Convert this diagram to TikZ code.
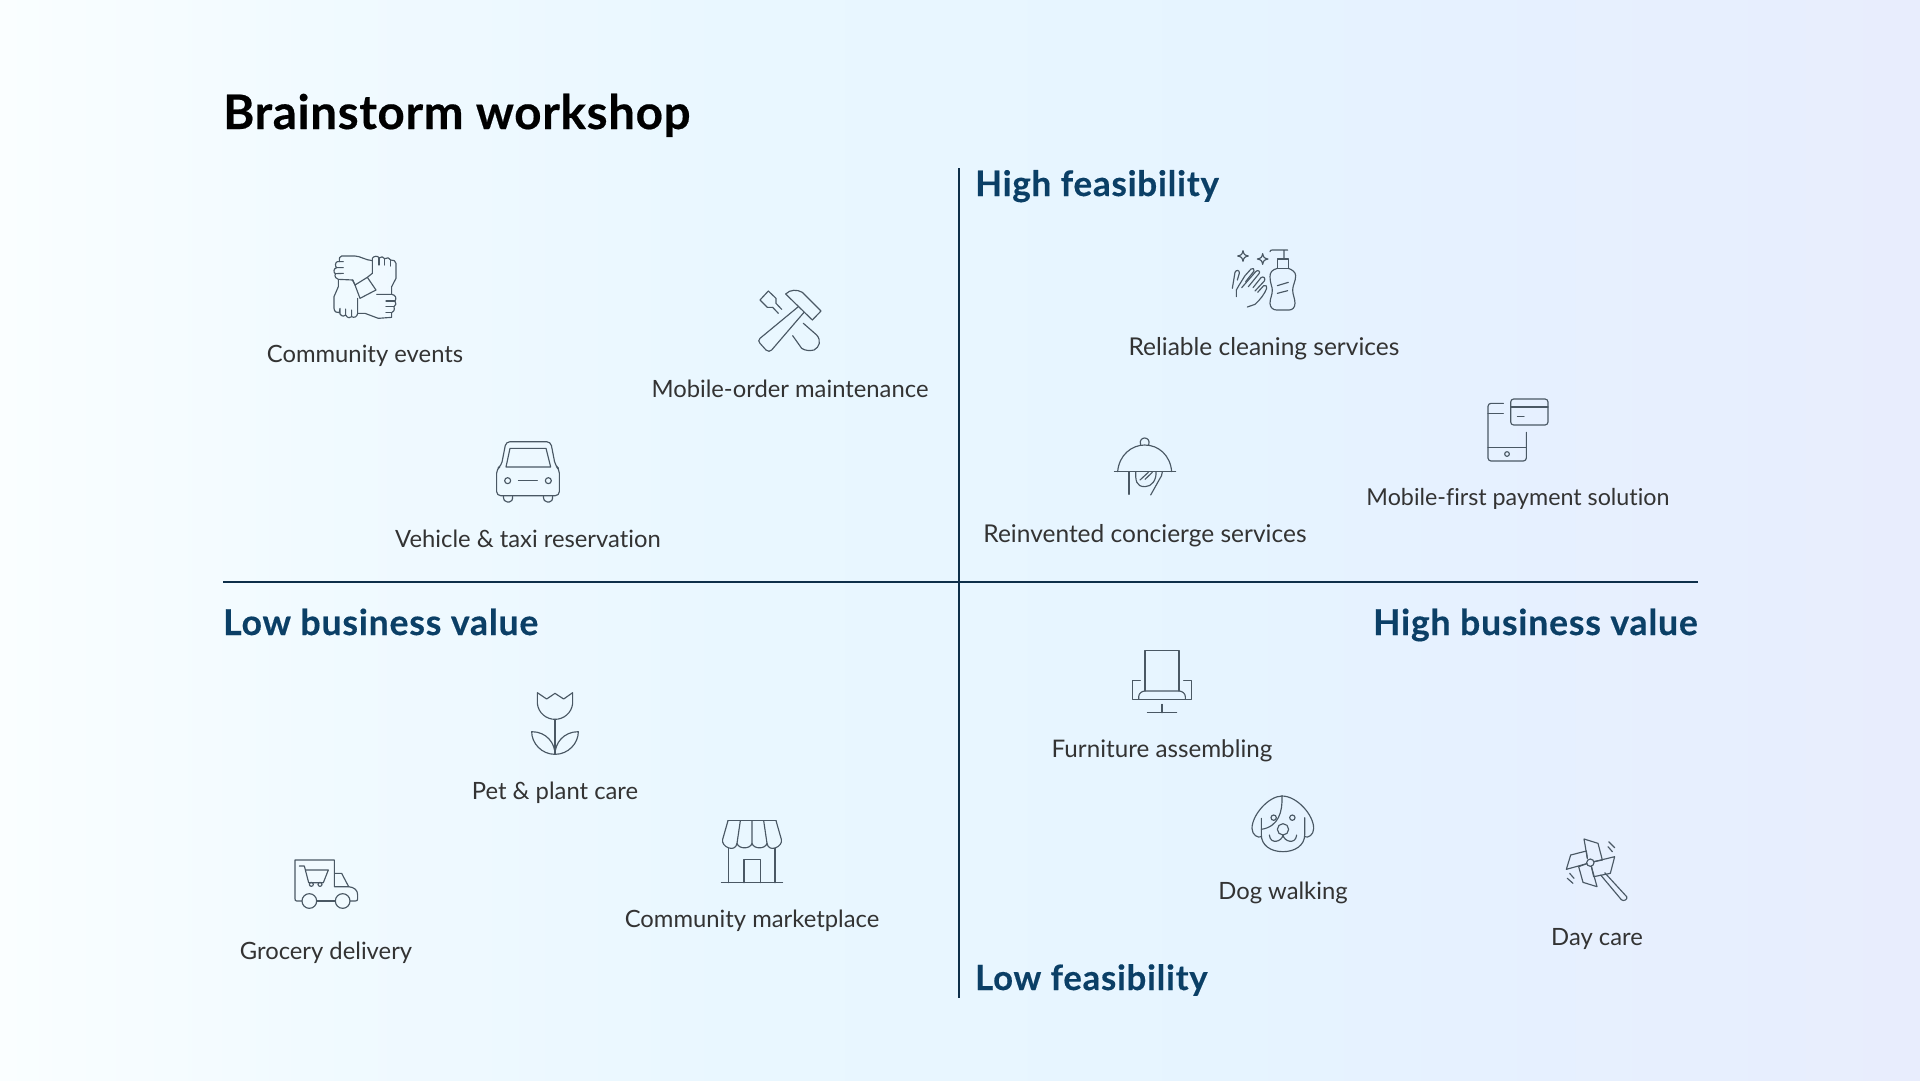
\documentclass[tikz,border=0pt]{standalone}
\usepackage{fontspec}
\setmainfont{Lato}[Ligatures=NoCommon]
\definecolor{axisc}{HTML}{0E2F4A}
\definecolor{headc}{HTML}{0B3F66}
\definecolor{labc}{HTML}{333333}
\definecolor{iconc}{HTML}{4A5864}
\definecolor{bga}{HTML}{FAFEFF}
\definecolor{bgb}{HTML}{F1FAFF}
\definecolor{bgc}{HTML}{E9F7FF}
\definecolor{bgd}{HTML}{E8F6FF}
\definecolor{bge}{HTML}{E6F4FF}
\definecolor{bgf}{HTML}{E6F1FF}
\definecolor{bgg}{HTML}{E8EDFD}
\pgfdeclarehorizontalshading{bgshade}{100bp}{
  color(0bp)=(bga);
  color(25bp)=(bga);
  color(33bp)=(bgb);
  color(44bp)=(bgc);
  color(50bp)=(bgd);
  color(57bp)=(bge);
  color(63bp)=(bgf);
  color(75bp)=(bgg);
  color(100bp)=(bgg)}
\tikzset{
  lab/.style={anchor=base,inner sep=0pt,text=labc,font=\fontsize{#1}{28}\selectfont},
  lab/.default=23.8,
  head/.style={inner sep=0pt,text=headc,font=\fontsize{#1}{40}\selectfont\bfseries\addfontfeatures{LetterSpace=2.2,FakeBold=0.35}},
  head/.default=35,
  ttl/.style={inner sep=0pt,anchor=base west,text=black,font=\fontsize{47.5}{54}\selectfont\bfseries\addfontfeatures{LetterSpace=1.4,FakeBold=0.4}},
  axisl/.style={draw=axisc,line width=1.7pt},
  ic/.style={x=0.33333pt,y=-0.33333pt,draw=iconc,line width=1.15pt,line cap=round,line join=round},
  iconpath/.style={draw=iconc,line width=1.15pt,line cap=round,line join=round}
}
\begin{document}
\begin{tikzpicture}[x=1pt,y=-1pt]
\useasboundingbox (0,0) rectangle (1920,1080);
\shade[shading=bgshade] (0,0) rectangle (1920,1080);

\coordinate (vtop) at (959,168);
\coordinate (vbot) at (959,998);
\coordinate (hl) at (223,582);
\coordinate (hr) at (1698,582);
\draw[axisl] (vtop) -- (vbot);
\draw[axisl] (hl) -- (hr);

\node[ttl] (title) at (223,129) {Brainstorm workshop};
\node[head,anchor=base west] (hf) at (975,196) {High feasibility};
\node[head=35.6,anchor=base west] (lb) at (223,635) {Low business value};
\node[head=35.6,anchor=base east] (hb) at (1698,635) {High business value};
\node[head=34.7,anchor=base west] (lf) at (975,990) {Low feasibility};

\node[lab] (l1) at (365,362.5) {Community events};
\node[lab] (l2) at (790,397) {Mobile-order maintenance};
\node[lab] (l3) at (528,547) {Vehicle \& taxi reservation};
\node[lab=24.5] (l4) at (1264,355) {Reliable cleaning services};
\node[lab=23.3] (l5) at (1518,505.5) {Mobile-first payment solution};
\node[lab=24.5] (l6) at (1145,542) {Reinvented concierge services};
\node[lab=24.2] (l7) at (1162,757) {Furniture assembling};
\node[lab] (l8) at (1283,899) {Dog walking};
\node[lab] (l9) at (1597,945) {Day care};
\node[lab] (l10) at (555,799) {Pet \& plant care};
\node[lab] (l11) at (752,927) {Community marketplace};
\node[lab] (l12) at (326,959) {Grocery delivery};

% hands
\begin{scope}[shift={(310,230)},ic]
\draw[iconpath] (187,92) .. controls (165,90) and (150,78) .. (135,78) -- (95,78) .. controls (88,78) and (88,85) .. (88,95) -- (82,95) .. controls (75,97) and (75,110) .. (80,113) .. controls (70,115) and (70,128) .. (76,131) .. controls (72,140) and (80,148) .. (85,148) -- (128,150) -- (135,165);
\draw[iconpath] (100,95) -- (88,95) (100,113) -- (80,113) (100,130) -- (76,131);
\draw[iconpath] (187,130) -- (187,85) .. controls (190,78) and (205,76) .. (207,84) .. controls (212,78) and (222,80) .. (224,86) .. controls (230,80) and (240,84) .. (242,90) .. controls (250,90) and (258,92) .. (258,100) -- (258,145) -- (245,170) -- (245,192);
\draw[iconpath] (207,84) -- (207,105) (224,86) -- (224,105) (242,90) -- (242,108);
\draw[iconpath] (187,130) -- (172,142) (128,150) -- (135,165) -- (172,142) -- (198,180) -- (150,205) -- (135,165);
\draw[iconpath] (200,193) -- (245,193) .. controls (258,195) and (260,205) .. (255,213) .. controls (260,218) and (258,228) .. (252,230) .. controls (255,240) and (250,247) .. (245,248) -- (245,262) -- (205,265) -- (165,250) -- (143,250);
\draw[iconpath] (228,213) -- (255,213) (228,230) -- (252,230) (228,248) -- (245,248);
\draw[iconpath] (85,150) -- (85,170) -- (72,200) -- (72,235) .. controls (72,245) and (82,250) .. (88,248) -- (90,235) -- (90,252) .. controls (95,260) and (105,260) .. (107,255) -- (107,237) -- (107,255) .. controls (112,265) and (122,265) .. (125,260) -- (125,240) -- (125,260) .. controls (132,265) and (142,260) .. (143,250) -- (143,205);
\end{scope}

% tools
\begin{scope}[shift={(740,270)},ic]
\draw[iconpath] (137,72) -- (217,150) -- (243,123) -- (187,67) .. controls (172,58) and (150,58) .. (137,72) -- cycle;
\draw[iconpath] (175,110) -- (60,205) .. controls (55,210) and (55,215) .. (60,220) -- (78,240) .. controls (84,245) and (90,245) .. (95,240) -- (192,127);
\draw[iconpath] (190,160) -- (230,195) .. controls (245,212) and (238,232) .. (222,240) .. controls (210,243) and (195,242) .. (185,235) -- (158,197);
\draw[iconpath] (98,112) -- (82,112) -- (60,90) -- (85,63) -- (108,85) -- (108,100) -- (125,118);
\draw[iconpath] (98,112) -- (115,130);
\end{scope}

% car
\begin{scope}[shift={(480,425)},ic]
\draw[iconpath,rounded corners=4pt] (50,132) -- (50,212) -- (238,212) -- (238,132) -- (226,122) -- (212,50) -- (78,50) -- (64,122) -- cycle;
\draw[iconpath] (90,70) -- (198,70) -- (212,126) -- (78,126) -- cycle;
\draw[iconpath] (83,167) circle[radius=9] (205,167) circle[radius=9];
\draw[iconpath] (115,167) -- (172,167);
\draw[iconpath] (70,212) .. controls (70,225) and (75,231) .. (82,231) -- (88,231) .. controls (95,231) and (98,225) .. (98,212);
\draw[iconpath] (190,212) .. controls (190,225) and (195,231) .. (202,231) -- (208,231) .. controls (215,231) and (218,225) .. (218,212);
\end{scope}

% soap and hands
\begin{scope}[shift={(1215,235)},ic]
\foreach \cx/\cy in {84/63,143/72}{
\draw[iconpath] (\cx,\cy-16) .. controls (\cx+3,\cy-4) and (\cx+4,\cy-3) .. (\cx+16,\cy) .. controls (\cx+4,\cy+3) and (\cx+3,\cy+4) .. (\cx,\cy+16) .. controls (\cx-3,\cy+4) and (\cx-4,\cy+3) .. (\cx-16,\cy) .. controls (\cx-4,\cy-3) and (\cx-3,\cy-4) .. cycle;
}
\draw[iconpath] (165,50) .. controls (165,46) and (168,45) .. (172,45) -- (218,45) (207,45) -- (207,72);
\draw[iconpath] (187,72) -- (220,72) -- (220,100) -- (187,100) -- cycle;
\draw[iconpath] (187,100) .. controls (170,105) and (165,112) .. (165,125) .. controls (165,145) and (172,155) .. (172,165) .. controls (172,180) and (165,190) .. (165,205) .. controls (165,218) and (175,225) .. (185,225) -- (222,225) .. controls (232,225) and (240,218) .. (240,205) .. controls (240,190) and (233,180) .. (233,165) .. controls (233,150) and (242,140) .. (242,122) .. controls (242,112) and (232,104) .. (220,100);
\draw[iconpath] (187,152) -- (220,142) (187,175) -- (218,167);
\draw[iconpath] (52,160) -- (60,112) .. controls (62,104) and (75,104) .. (73,115) -- (67,135) (64,185) -- (64,165);
\draw[iconpath] (64,165) .. controls (72,150) and (85,130) .. (90,122) -- (108,102) .. controls (112,97) and (120,102) .. (117,108) -- (92,140);
\draw[iconpath] (80,158) -- (122,110) .. controls (128,102) and (138,110) .. (132,116) -- (100,155);
\draw[iconpath] (114,158) -- (138,128) .. controls (145,122) and (153,130) .. (148,138) -- (120,168);
\draw[iconpath] (128,172) -- (146,152) .. controls (152,148) and (158,155) .. (155,160) .. controls (150,175) and (135,195) .. (120,208) -- (97,216);
\end{scope}

% cloche
\begin{scope}[shift={(1095,425)},ic]
\draw[iconpath] (137,60) .. controls (132,45) and (142,39) .. (149,39) .. controls (156,39) and (166,45) .. (161,60);
\draw[iconpath] (68,140) .. controls (72,90) and (110,60) .. (149,60) .. controls (190,60) and (226,90) .. (230,140);
\draw[iconpath] (58,140) -- (242,140);
\draw[iconpath] (102,140) -- (102,208);
\draw[iconpath] (122,140) .. controls (122,165) and (122,185) .. (150,185) .. controls (170,185) and (185,165) .. (183,140);
\draw[iconpath] (135,165) -- (160,142) (150,163) -- (172,142);
\draw[iconpath] (202,140) .. controls (202,150) and (198,155) .. (195,160) -- (167,210);
\end{scope}

% payment
\begin{scope}[shift={(1468,385)},ic]
\draw[iconpath,rounded corners=3pt] (128,42) rectangle (240,120);
\draw[iconpath] (128,66) -- (240,66) (148,95) -- (168,95);
\draw[iconpath,rounded corners=3pt] (106,55) -- (60,55) -- (60,228) -- (175,228) -- (175,142);
\draw[iconpath] (60,86) -- (106,86) (60,187) -- (175,187);
\draw[iconpath] (117,207) circle[radius=7];
\end{scope}

% tulip
\begin{scope}[shift={(505,675)},ic]
\draw[iconpath] (97,53) -- (125,72) -- (150,55) -- (176,72) -- (203,53) -- (203,85) .. controls (200,115) and (175,133) .. (150,133) .. controls (125,133) and (100,115) .. (97,85) -- cycle;
\draw[iconpath] (150,133) -- (150,238);
\draw[iconpath] (150,238) .. controls (150,205) and (125,170) .. (80,170) .. controls (80,205) and (110,238) .. (150,238);
\draw[iconpath] (150,238) .. controls (150,205) and (175,170) .. (220,170) .. controls (220,205) and (190,238) .. (150,238);
\end{scope}

% store
\begin{scope}[shift={(702,810)},ic]
\draw[iconpath] (78,32) -- (222,32);
\draw[iconpath] (78,32) -- (62,88) .. controls (56,110) and (100,130) .. (105,100) .. controls (110,118) and (145,118) .. (150,100) .. controls (155,118) and (190,118) .. (195,100) .. controls (200,130) and (244,110) .. (238,88) -- (222,32);
\draw[iconpath] (115,32) -- (105,100) (150,32) -- (150,100) (185,32) -- (195,100);
\draw[iconpath] (80,115) -- (80,218) (219,115) -- (219,218) (58,218) -- (242,218);
\draw[iconpath] (126,218) -- (126,149) -- (175,149) -- (175,218);
\end{scope}

% truck
\begin{scope}[shift={(276,840)},ic]
\draw[iconpath] (78,183) -- (62,183) .. controls (58,183) and (57,180) .. (57,176) -- (57,60) -- (175,60) -- (175,140) -- (218,140) -- (197,100) -- (175,100);
\draw[iconpath] (218,140) .. controls (235,142) and (245,150) .. (245,165) -- (245,176) .. controls (245,181) and (243,183) .. (238,183) -- (222,183);
\draw[iconpath] (122,183) -- (178,183);
\draw[iconpath] (100,183) circle[radius=22] (200,183) circle[radius=22];
\draw[iconpath] (70,78) -- (85,78) -- (98,128) -- (142,128) -- (157,90) -- (88,90);
\draw[iconpath] (106,133) circle[radius=6] (132,133) circle[radius=6];
\end{scope}

% chair
\begin{scope}[shift={(1112,640)},ic]
\draw[iconpath] (99,153) -- (99,32) -- (201,32) -- (201,153);
\draw[iconpath] (80,178) -- (80,170) .. controls (80,160) and (90,153) .. (99,153) -- (201,153) .. controls (210,153) and (220,160) .. (220,170) -- (220,178);
\draw[iconpath] (85,122) -- (62,122) -- (62,178) -- (238,178) -- (238,122) -- (215,122);
\draw[iconpath] (150,193) -- (150,218) (106,218) -- (194,218);
\end{scope}

% dog
\begin{scope}[shift={(1232,785)},ic]
\draw[iconpath] (150,33) .. controls (110,33) and (60,90) .. (60,130) .. controls (60,150) and (78,160) .. (88,155);
\draw[iconpath] (150,33) .. controls (195,33) and (245,90) .. (245,130) .. controls (245,150) and (228,160) .. (218,155);
\draw[iconpath] (218,98) -- (218,150) .. controls (218,180) and (190,200) .. (153,200) .. controls (115,200) and (88,180) .. (88,150) -- (88,100);
\draw[iconpath] (150,33) .. controls (152,80) and (140,125) .. (88,133);
\draw[iconpath] (125,98) circle[radius=8] (181,98) circle[radius=8];
\draw[iconpath] (153,133) circle[radius=17];
\draw[iconpath] (153,150) .. controls (150,170) and (115,180) .. (112,150);
\draw[iconpath] (153,150) .. controls (156,170) and (191,180) .. (194,150);
\end{scope}

% pinwheel
\begin{scope}[shift={(1548,825)},ic]
\draw[iconpath] (127,113) circle[radius=11];
\draw[iconpath] (118,100) -- (108,42) -- (150,55) -- (163,105) -- (138,110);
\draw[iconpath] (138,110) -- (200,95) -- (187,145) -- (137,155) -- (130,124);
\draw[iconpath] (130,124) -- (147,185) -- (105,172) -- (92,125) -- (116,116);
\draw[iconpath] (116,116) -- (55,133) -- (68,90) -- (115,78) -- (118,100);
\draw[iconpath] (158,150) -- (220,224) .. controls (226,230) and (240,224) .. (236,215) -- (170,143);
\draw[iconpath] (182,50) -- (200,68) (180,65) -- (193,80);
\draw[iconpath] (65,145) -- (78,160) (58,160) -- (75,175);
\end{scope}
\end{tikzpicture}
\end{document}
